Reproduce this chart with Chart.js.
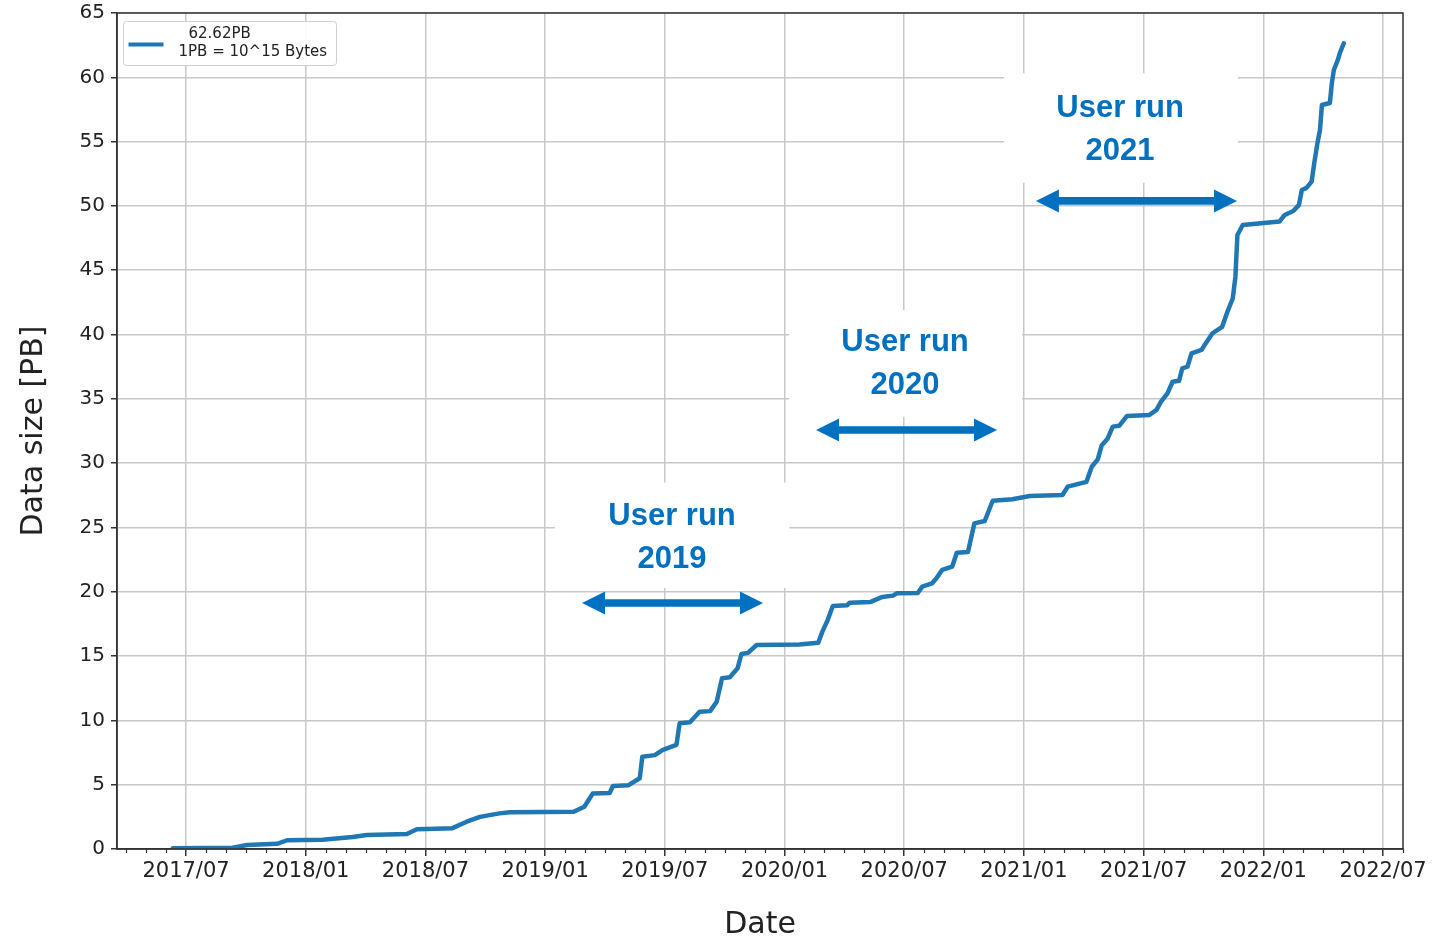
<!DOCTYPE html>
<html>
<head>
<meta charset="utf-8">
<script src="https://cdn.jsdelivr.net/npm/chart.js@4.4.0/dist/chart.umd.min.js"></script>
<style>
  html, body { margin: 0; padding: 0; background: #fff; }
  #wrap { width: 1444px; height: 939px; }
</style>
</head>
<body>
<div id="wrap"><canvas id="chart" width="1444" height="939"></canvas></div>
<script>
'use strict';

// cumulative data size (PB)
var dates = [
  '2017-06-11', '2017-09-11', '2017-10-03', '2017-11-18', '2017-12-03',
  '2018-01-27', '2018-03-12', '2018-04-03', '2018-06-03', '2018-06-18', '2018-08-12',
  '2018-09-03', '2018-09-23', '2018-10-23', '2018-11-08',
  '2019-02-13', '2019-02-28', '2019-03-13', '2019-04-08', '2019-04-13', '2019-05-06',
  '2019-05-24', '2019-05-28', '2019-06-16', '2019-06-28', '2019-07-19', '2019-07-24',
  '2019-08-09', '2019-08-24', '2019-09-09', '2019-09-19', '2019-09-27', '2019-10-09',
  '2019-10-21', '2019-10-27', '2019-11-06', '2019-11-19',
  '2020-01-24', '2020-02-21', '2020-02-27', '2020-03-06', '2020-03-14', '2020-04-05',
  '2020-04-09', '2020-05-10', '2020-05-29', '2020-06-14', '2020-06-20', '2020-07-22',
  '2020-07-29', '2020-08-13', '2020-08-20', '2020-08-29', '2020-09-13', '2020-09-20',
  '2020-10-07', '2020-10-17', '2020-11-02', '2020-11-14', '2020-12-14',
  '2021-01-10', '2021-02-27', '2021-03-07', '2021-04-05', '2021-04-13', '2021-04-22',
  '2021-04-28', '2021-05-07', '2021-05-15', '2021-05-25', '2021-06-06', '2021-07-10',
  '2021-07-21', '2021-07-28', '2021-08-07', '2021-08-15', '2021-08-25', '2021-08-30',
  '2021-09-07', '2021-09-13', '2021-09-28', '2021-10-03', '2021-10-15', '2021-10-30',
  '2021-11-07', '2021-11-15', '2021-11-19', '2021-11-22', '2021-11-30',
  '2022-01-26', '2022-02-03', '2022-02-15', '2022-02-23', '2022-02-27', '2022-03-06',
  '2022-03-14', '2022-03-18', '2022-03-23', '2022-03-27', '2022-03-30', '2022-04-11',
  '2022-04-14', '2022-04-17', '2022-04-23', '2022-04-26', '2022-05-02'
];
var sizes = [
  0.05, 0.1, 0.31, 0.4, 0.68,
  0.72, 0.93, 1.09, 1.17, 1.53, 1.62,
  2.12, 2.5, 2.77, 2.85,
  2.9, 3.28, 4.32, 4.35, 4.9, 4.95,
  5.5, 7.17, 7.3, 7.7, 8.09, 9.77,
  9.85, 10.68, 10.72, 11.45, 13.27, 13.35,
  14.05, 15.16, 15.25, 15.86,
  15.9, 16.04, 16.9, 17.8, 18.9, 18.95,
  19.15, 19.2, 19.6, 19.7, 19.88, 19.9,
  20.4, 20.65, 21.05, 21.7, 21.95, 23.04,
  23.1, 25.32, 25.5, 27.08, 27.2,
  27.45, 27.53, 28.17, 28.55, 29.72, 30.3,
  31.4, 31.9, 32.84, 32.9, 33.67, 33.75,
  34.14, 34.78, 35.43, 36.33, 36.4, 37.37,
  37.5, 38.54, 38.8, 39.2, 40.1, 40.6,
  41.78, 42.8, 44.5, 47.74, 48.52,
  48.78, 49.3, 49.6, 50.08, 51.24, 51.4,
  51.89, 53.3, 54.87, 55.9, 57.85, 58.0,
  59.54, 60.57, 61.35, 61.88, 62.65
];

var tickDates = ['2017-07-01', '2018-01-01', '2018-07-01', '2019-01-01', '2019-07-01', '2020-01-01',
  '2020-07-01', '2021-01-01', '2021-07-01', '2022-01-01', '2022-07-01'];
var tickLabels = ['2017/07', '2018/01', '2018/07', '2019/01', '2019/07', '2020/01',
  '2020/07', '2021/01', '2021/07', '2022/01', '2022/07'];
var legendLines = ['62.62PB', '1PB = 10^15 Bytes'];
var runYears = ['2019', '2020', '2021'];

// months since 2017-01-01
function toMonths(s) {
  var p = s.split('-').map(Number);
  var dim = new Date(Date.UTC(p[0], p[1], 0)).getUTCDate();
  return (p[0] - 2017) * 12 + (p[1] - 1) + (p[2] - 1) / dim;
}

// annotation placement in data units (months, PB)
var runLayout = [
  { box: [24.5, 36.23, 28.5, 20.3], text: [30.36, 25.85, 22.55], arrow: [25.85, 34.92, 19.13] },
  { box: [36.23, 47.9, 41.9, 33.6], text: [42.04, 39.4, 36.05], arrow: [37.58, 46.65, 32.58] },
  { box: [47.0, 58.73, 60.3, 51.8], text: [52.82, 57.55, 54.2], arrow: [48.6, 58.68, 50.39] }
];

var points = dates.map(function (d, i) {
  return { x: toMonths(d), y: sizes[i] };
});

function drawArrow(ctx, x1, x2, y) {
  var head = 23, half = 11.5, shaft = 3.8;
  ctx.beginPath();
  ctx.moveTo(x1, y);
  ctx.lineTo(x1 + head, y - half);
  ctx.lineTo(x1 + head, y - shaft);
  ctx.lineTo(x2 - head, y - shaft);
  ctx.lineTo(x2 - head, y - half);
  ctx.lineTo(x2, y);
  ctx.lineTo(x2 - head, y + half);
  ctx.lineTo(x2 - head, y + shaft);
  ctx.lineTo(x1 + head, y + shaft);
  ctx.lineTo(x1 + head, y + half);
  ctx.closePath();
  ctx.fill();
}

var decor = {
  id: 'decor',
  beforeDatasetsDraw: function (chart) {
    var ctx = chart.ctx, xs = chart.scales.x, ys = chart.scales.y;
    ctx.save();
    ctx.fillStyle = '#fff';
    runLayout.forEach(function (r) {
      var x1 = xs.getPixelForValue(r.box[0]), x2 = xs.getPixelForValue(r.box[1]);
      var y1 = ys.getPixelForValue(r.box[2]), y2 = ys.getPixelForValue(r.box[3]);
      ctx.fillRect(x1, y1, x2 - x1, y2 - y1);
    });
    ctx.restore();
  },
  afterDraw: function (chart) {
    var ctx = chart.ctx, xs = chart.scales.x, ys = chart.scales.y, a = chart.chartArea;
    ctx.save();

    // minor month ticks
    ctx.strokeStyle = '#333';
    ctx.lineWidth = 1.2;
    for (var m = Math.ceil(xs.min); m <= xs.max; m++) {
      if (m % 6 === 0) continue;
      var px = Math.round(xs.getPixelForValue(m)) + 0.5;
      ctx.beginPath();
      ctx.moveTo(px, a.bottom);
      ctx.lineTo(px, a.bottom + 4);
      ctx.stroke();
    }

    // frame
    ctx.lineWidth = 1.5;
    ctx.strokeStyle = '#333';
    ctx.strokeRect(a.left, a.top, a.right - a.left, a.bottom - a.top);

    // run annotations
    ctx.fillStyle = '#0070c0';
    ctx.font = 'bold 31px "Liberation Sans", Arial, sans-serif';
    ctx.textAlign = 'center';
    ctx.textBaseline = 'middle';
    runLayout.forEach(function (r, i) {
      var tx = xs.getPixelForValue(r.text[0]);
      ctx.fillText('User run', tx, ys.getPixelForValue(r.text[1]));
      ctx.fillText(runYears[i], tx, ys.getPixelForValue(r.text[2]));
      drawArrow(ctx, xs.getPixelForValue(r.arrow[0]), xs.getPixelForValue(r.arrow[1]),
        ys.getPixelForValue(r.arrow[2]));
    });

    // legend
    var lx = a.left + 6.5, ly = a.top + 8.5;
    ctx.fillStyle = 'rgba(255,255,255,0.9)';
    ctx.strokeStyle = '#d0d0d0';
    ctx.lineWidth = 1;
    ctx.beginPath();
    ctx.roundRect(lx, ly, 213, 44, 3);
    ctx.fill();
    ctx.stroke();
    ctx.strokeStyle = '#1f77b4';
    ctx.lineWidth = 4;
    ctx.beginPath();
    ctx.moveTo(lx + 5, ly + 23);
    ctx.lineTo(lx + 40, ly + 23);
    ctx.stroke();
    ctx.fillStyle = '#222';
    ctx.font = '15px "DejaVu Sans", sans-serif';
    ctx.textAlign = 'left';
    ctx.textBaseline = 'middle';
    ctx.fillText(legendLines[0], lx + 65, ly + 13);
    ctx.fillText(legendLines[1], lx + 55, ly + 31);

    ctx.restore();
  }
};

var chart = new Chart(document.getElementById('chart').getContext('2d'), {
  type: 'line',
  data: {
    datasets: [{
      label: legendLines.join('\n'),
      data: points,
      borderColor: '#1f77b4',
      borderWidth: 4.5,
      borderJoinStyle: 'round',
      borderCapStyle: 'round',
      pointRadius: 0,
      tension: 0,
      fill: false
    }]
  },
  options: {
    responsive: false,
    animation: false,
    events: [],
    layout: { padding: { left: 0, right: 41, top: 13, bottom: 0 } },
    plugins: {
      legend: { display: false },
      tooltip: { enabled: false }
    },
    scales: {
      x: {
        type: 'linear',
        min: 2.54,
        max: 67.0,
        afterBuildTicks: function (scale) {
          scale.ticks = tickDates.map(function (d) { return { value: toMonths(d) }; });
        },
        afterFit: function (scale) {
          scale.height = 90;
          scale.paddingLeft = 0;
          scale.paddingRight = 0;
        },
        ticks: {
          autoSkip: false,
          maxRotation: 0,
          padding: 3,
          color: '#222',
          font: { family: 'DejaVu Sans', size: 21 },
          callback: function (v, i) { return tickLabels[i]; }
        },
        grid: { color: '#c8c8c8', lineWidth: 1.5, tickColor: '#333', tickLength: 7 },
        border: { display: true, color: '#333', width: 1.5 },
        title: {
          display: true,
          text: 'Date',
          color: '#222',
          font: { family: 'DejaVu Sans', size: 30 },
          padding: { top: 0, bottom: -4 }
        }
      },
      y: {
        min: 0,
        max: 65,
        afterFit: function (scale) {
          scale.width = 117;
          scale.paddingTop = 0;
          scale.paddingBottom = 0;
        },
        ticks: { stepSize: 5, padding: 6, color: '#222', font: { family: 'DejaVu Sans', size: 20 } },
        grid: { color: '#c8c8c8', lineWidth: 1.5, tickColor: '#333', tickLength: 6 },
        border: { display: true, color: '#333', width: 1.5 },
        title: {
          display: true,
          text: 'Data size [PB]',
          color: '#222',
          font: { family: 'DejaVu Sans', size: 30 },
          padding: { top: 16, bottom: 0 }
        }
      }
    }
  },
  plugins: [decor]
});
</script>
</body>
</html>
